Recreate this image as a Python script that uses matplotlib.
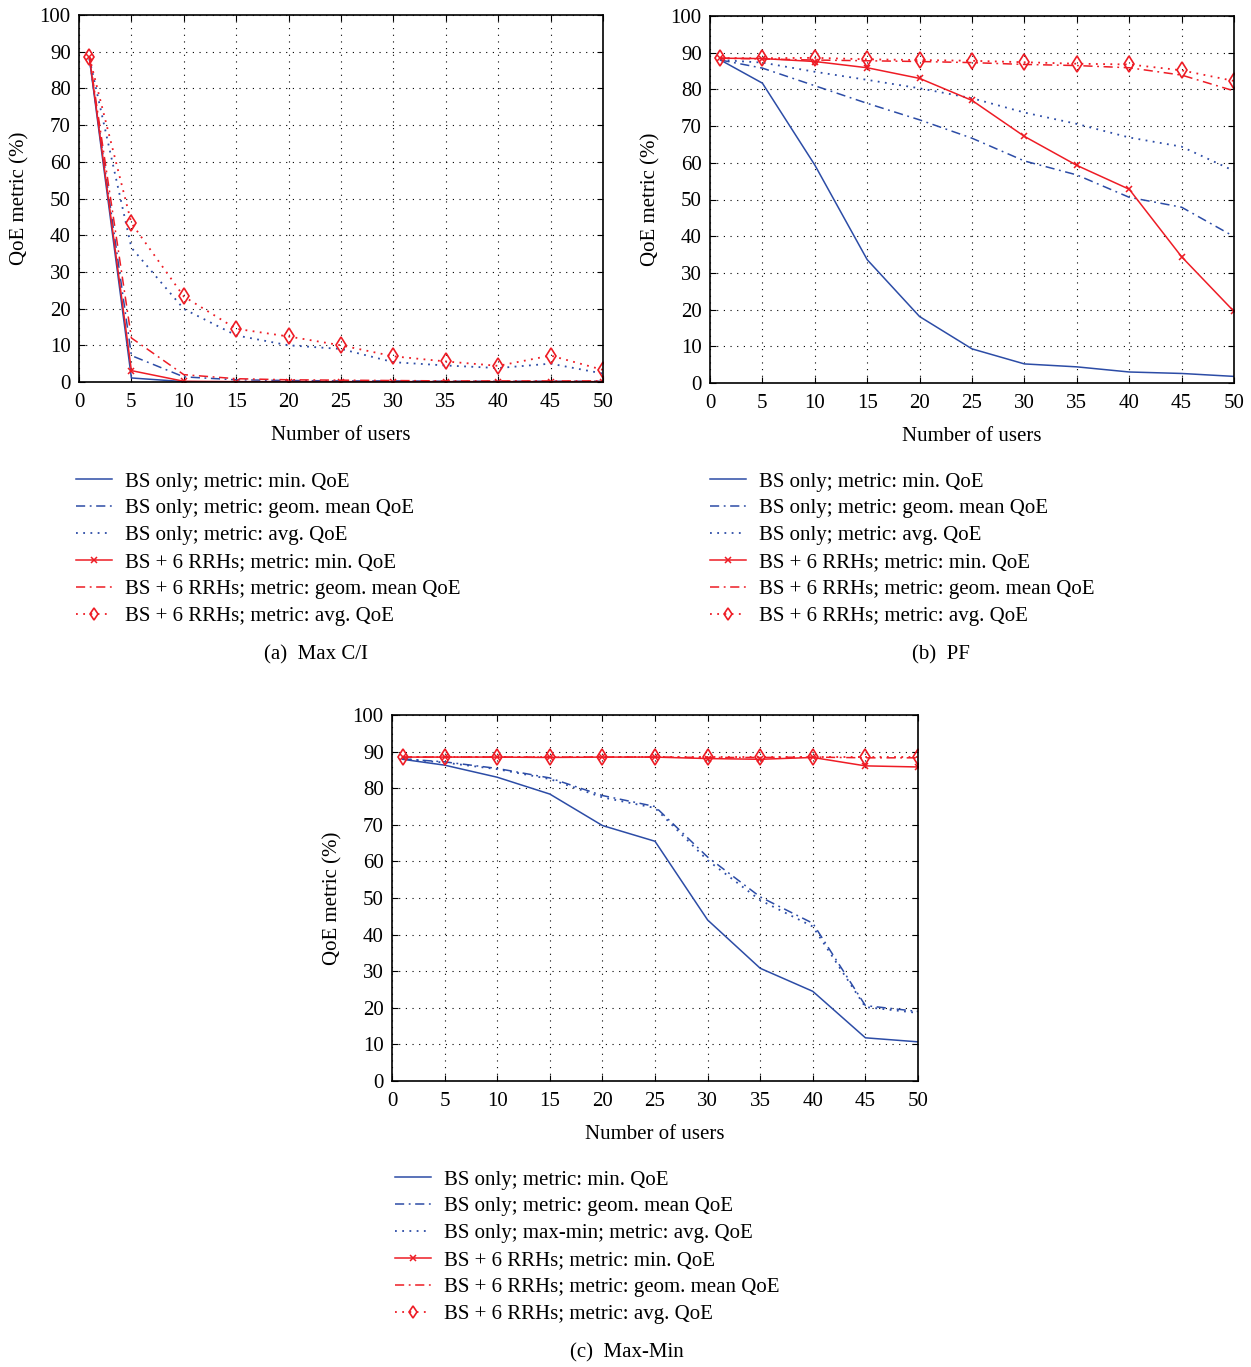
import numpy as np
import matplotlib
matplotlib.use('Agg')
import matplotlib.pyplot as plt

# number of users on the x axis
users = [1, 5, 10, 15, 20, 25, 30, 35, 40, 45, 50]

# (a) Max C/I
maxci_bs_min = [88.0, 1.1, 0.1, 0.0, 0.0, 0.0, 0.0, 0.0, 0.0, 0.0, 0.0]
maxci_bs_geom = [88.0, 7.2, 1.4, 0.6, 0.4, 0.3, 0.3, 0.2, 0.2, 0.2, 0.2]
maxci_bs_avg = [88.0, 36.6, 19.9, 12.7, 10.0, 9.0, 5.4, 4.5, 3.8, 5.0, 2.3]
maxci_rrh_min = [88.5, 3.1, 0.2, 0.1, 0.1, 0.1, 0.1, 0.1, 0.1, 0.1, 0.1]
maxci_rrh_geom = [88.5, 12.0, 2.0, 0.9, 0.6, 0.5, 0.4, 0.3, 0.3, 0.3, 0.3]
maxci_rrh_avg = [88.5, 43.3, 23.3, 14.5, 12.4, 10.0, 7.0, 5.6, 4.4, 7.2, 3.3]

# (b) PF
pf_bs_min = [88.0, 81.7, 59.4, 33.6, 18.1, 9.3, 5.2, 4.4, 3.0, 2.6, 1.8]
pf_bs_geom = [88.0, 85.8, 81.0, 76.2, 71.7, 66.7, 60.5, 56.7, 50.6, 47.9, 39.9]
pf_bs_avg = [88.0, 87.3, 84.8, 82.6, 80.3, 77.6, 73.7, 70.6, 66.9, 64.4, 57.8]
pf_rrh_min = [88.5, 88.4, 87.6, 85.9, 83.0, 77.0, 67.2, 59.3, 52.8, 34.4, 19.5]
pf_rrh_geom = [88.5, 88.3, 88.0, 87.8, 87.6, 87.3, 86.8, 86.5, 85.9, 83.9, 79.6]
pf_rrh_avg = [88.5, 88.5, 88.6, 88.2, 88.0, 87.8, 87.4, 87.0, 86.8, 85.2, 82.3]

# (c) Max-Min
mm_bs_min = [87.9, 86.3, 83.0, 78.4, 69.8, 65.5, 44.0, 30.8, 24.5, 11.8, 10.7]
mm_bs_geom = [88.0, 87.2, 85.4, 82.8, 78.0, 75.0, 61.2, 50.3, 43.1, 20.6, 19.0]
mm_bs_avg = [88.0, 87.0, 85.2, 82.5, 77.5, 74.6, 60.3, 49.4, 42.2, 20.2, 18.6]
mm_rrh_min = [88.5, 88.5, 88.5, 88.4, 88.5, 88.5, 88.1, 87.9, 88.4, 86.1, 85.8]
mm_rrh_geom = [88.5, 88.5, 88.5, 88.5, 88.5, 88.5, 88.4, 88.4, 88.5, 88.3, 88.3]
mm_rrh_avg = [88.6, 88.6, 88.6, 88.6, 88.6, 88.6, 88.6, 88.6, 88.6, 88.6, 88.6]

labels_ab = ['BS only; metric: min. QoE',
             'BS only; metric: geom. mean QoE',
             'BS only; metric: avg. QoE',
             'BS + 6 RRHs; metric: min. QoE',
             'BS + 6 RRHs; metric: geom. mean QoE',
             'BS + 6 RRHs; metric: avg. QoE']
labels_c = ['BS only; metric: min. QoE',
            'BS only; metric: geom. mean QoE',
            'BS only; max-min; metric: avg. QoE',
            'BS + 6 RRHs; metric: min. QoE',
            'BS + 6 RRHs; metric: geom. mean QoE',
            'BS + 6 RRHs; metric: avg. QoE']

BLUE = '#2c4ca6'
RED = '#ee1c25'
DOT = (0, (1, 3))
DASHDOT = (0, (6, 3, 1.2, 3))
FS = 15

plt.rcParams['font.family'] = ['Liberation Serif', 'DejaVu Serif']
plt.rcParams['font.size'] = FS

fig = plt.figure(figsize=(12.51, 13.67), dpi=100)


def draw_panel(rect, series, labels, legend_xy, caption, caption_xy):
    ax = fig.add_axes(rect)
    styles = [dict(color=BLUE, ls='-', lw=1.1),
              dict(color=BLUE, ls=DASHDOT, lw=1.1),
              dict(color=BLUE, ls=DOT, lw=1.3),
              dict(color=RED, ls='-', lw=1.1, marker='x', ms=5, mew=1.1),
              dict(color=RED, ls=DASHDOT, lw=1.1),
              dict(color=RED, ls=DOT, lw=1.3, marker='d', ms=8, mfc='none', mew=1.2)]
    for ys, st, lab in zip(series, styles, labels):
        ax.plot(users, ys, label=lab, **st)
    ax.set_xlim(0, 50)
    ax.set_ylim(0, 100)
    ax.set_xticks(np.arange(0, 51, 5))
    ax.set_yticks(np.arange(0, 101, 10))
    ax.grid(True, color='black', ls=(0, (1, 5)), lw=0.8)
    ax.tick_params(direction='in', top=True, right=True, length=4, labelsize=FS)
    ax.tick_params(axis='x', pad=8)
    ax.tick_params(axis='y', pad=6)
    for sp in ax.spines.values():
        sp.set_linewidth(1.2)
    ax.set_xlabel('Number of users', fontsize=FS, labelpad=10)
    ax.set_ylabel('QoE metric (%)', fontsize=FS, labelpad=7)
    ax.legend(loc='upper left', bbox_to_anchor=legend_xy, bbox_transform=fig.transFigure,
              frameon=False, handlelength=1.75, handletextpad=0.6, labelspacing=0.35,
              borderpad=0, borderaxespad=0, fontsize=FS, numpoints=1, markerscale=0.75)
    fig.text(caption_xy[0], caption_xy[1], caption, ha='center', va='center', fontsize=FS)
    return ax


W, H = 1251.0, 1367.0
draw_panel([79 / W, 1 - 382 / H, 524 / W, 367 / H],
           [maxci_bs_min, maxci_bs_geom, maxci_bs_avg, maxci_rrh_min, maxci_rrh_geom, maxci_rrh_avg],
           labels_ab, (76 / W, 1 - 472 / H), '(a)  Max C/I', (316 / W, 1 - 655 / H))
draw_panel([710 / W, 1 - 383 / H, 524 / W, 367 / H],
           [pf_bs_min, pf_bs_geom, pf_bs_avg, pf_rrh_min, pf_rrh_geom, pf_rrh_avg],
           labels_ab, (710 / W, 1 - 472 / H), '(b)  PF', (941 / W, 1 - 655 / H))
draw_panel([392 / W, 1 - 1081 / H, 526 / W, 366 / H],
           [mm_bs_min, mm_bs_geom, mm_bs_avg, mm_rrh_min, mm_rrh_geom, mm_rrh_avg],
           labels_c, (395 / W, 1 - 1170 / H), '(c)  Max-Min', (627 / W, 1 - 1353 / H))

fig.savefig('out.png', dpi=100)
